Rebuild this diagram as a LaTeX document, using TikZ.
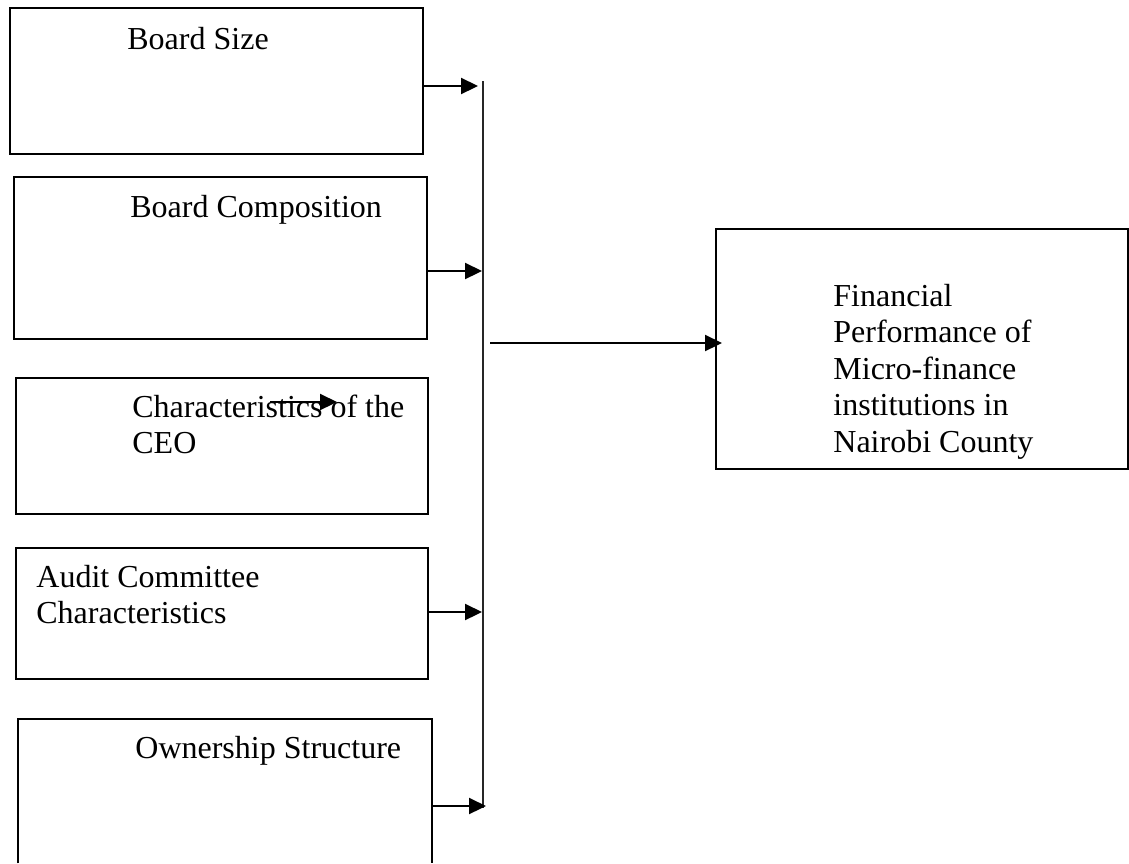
\documentclass[tikz,border=0pt]{standalone}
\usepackage{fontspec}
\setmainfont{Liberation Serif}
\usetikzlibrary{arrows.meta}
\begin{document}
\begin{tikzpicture}[x=0.5pt,y=-0.5pt,
  box/.style={draw=black,line width=1pt,rectangle,inner sep=0pt},
  openbox/.style={rectangle,inner sep=0pt},
  txt/.style={anchor=base west,inner sep=0pt,font=\fontsize{16pt}{18pt}\selectfont},
  arr/.style={line width=1.1pt,-{Triangle[length=8.5pt,width=8pt]}},
  bus/.style={line width=0.65pt,draw=black!85}]
\useasboundingbox (0,0) rectangle (1129,863);
% boxes
\node[box,minimum width=206.5pt,minimum height=73pt] (b1) at (216.5,81) {};
\node[box,minimum width=206.5pt,minimum height=81pt] (b2) at (220.5,258) {};
\node[box,minimum width=206pt,minimum height=68pt] (b3) at (222,446) {};
\node[box,minimum width=206pt,minimum height=65.5pt] (b4) at (222,613.5) {};
\node[openbox,minimum width=207pt,minimum height=72pt] (b5) at (225,791) {};
\draw[line width=1pt] (b5.south west) -- (b5.north west) -- (b5.north east) -- (b5.south east);
\node[box,minimum width=206pt,minimum height=120pt] (r) at (922,349) {};
% texts
\node[txt] (t1) at (127,49) {Board Size};
\node[txt] (t2) at (130,217) {Board Composition};
\node[txt] (t3a) at (132,417) {Characteristics of the};
\node[txt] (t3b) at (132,453) {CEO};
\node[txt] (t4a) at (36,587) {Audit Committee};
\node[txt] (t4b) at (36,623) {Characteristics};
\node[txt] (t5) at (135,758) {Ownership Structure};
\node[txt] (r1) at (833,306) {Financial};
\node[txt] (r2) at (833,342.5) {Performance of};
\node[txt] (r3) at (833,379) {Micro-finance};
\node[txt] (r4) at (833,415.5) {institutions in};
\node[txt] (r5) at (833,452) {Nairobi County};
% bus line
\coordinate (vtop) at (483,81);
\coordinate (vbot) at (483,808);
\draw[bus] (vtop) -- (vbot);
% arrows into bus
\coordinate (j1) at (478,86);
\coordinate (j2) at (482,271);
\coordinate (j4) at (482,612);
\coordinate (j5) at (486,806);
\draw[arr] (b1.east |- j1) -- (j1);
\draw[arr] (b2.east |- j2) -- (j2);
\draw[arr] (b4.east |- j4) -- (j4);
\draw[arr] (b5.east |- j5) -- (j5);
% main arrow
\coordinate (m0) at (490,343);
\draw[arr,shorten >=-3.5pt] (m0) -- (r.west |- m0);
% stray arrow in CEO box
\coordinate (c0) at (270,402);
\coordinate (c1) at (337,402);
\draw[arr] (c0) -- (c1);
\end{tikzpicture}
\end{document}
